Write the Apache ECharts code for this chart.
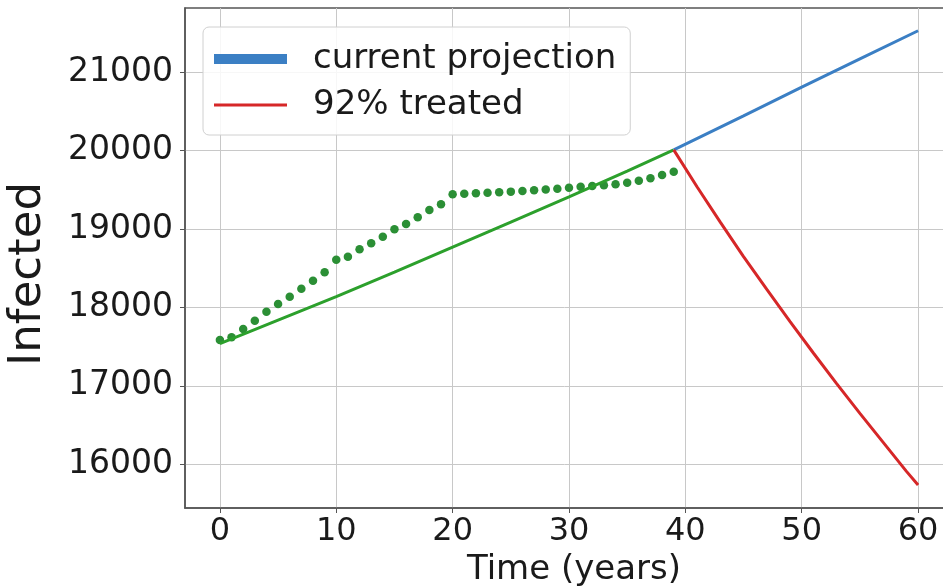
<!DOCTYPE html>
<html>
<head>
<meta charset="utf-8">
<script src="https://cdn.jsdelivr.net/npm/echarts@6/dist/echarts.min.js"></script>
<style>html,body{margin:0;padding:0;background:#fff;}#c{width:943px;height:587px;}</style>
</head>
<body>
<div id="c"></div>
<script>
// tick labels
const xTicks = [0, 10, 20, 30, 40, 50, 60];
const yTicks = [16000, 17000, 18000, 19000, 20000, 21000];

// green solid line (history fit)
const fitYears = [0, 5, 10, 15, 20, 25, 30, 35, 39];
const fitValues = [17540, 17840, 18140, 18450, 18770, 19090, 19410, 19740, 20010];

// green dotted observations (yearly)
const obsYears = [0,1,2,3,4,5,6,7,8,9,10,11,12,13,14,15,16,17,18,19,20,21,22,23,24,25,26,27,28,29,30,31,32,33,34,35,36,37,38,39];
const obsValues = [17585,17620,17726,17832,17946,18045,18138,18240,18342,18449,18610,18648,18742,18819,18903,18997,19065,19151,19244,19316,19446,19450,19456,19463,19470,19478,19486,19495,19505,19515,19528,19540,19550,19560,19571,19592,19617,19648,19690,19732];

// current projection (blue)
const projYears = [39, 45, 50, 55, 60];
const projValues = [20010, 20445, 20810, 21170, 21530];

// 92% treated (red)
const treatYears = [39, 41, 43, 45, 47, 49, 51, 53, 55, 57, 59, 60];
const treatValues = [20010, 19540, 19090, 18650, 18230, 17820, 17420, 17030, 16650, 16280, 15910, 15736];

const pairs = (xs, ys) => xs.map((x, i) => [x, ys[i]]);

const FONT = 'DejaVu Sans';
const chart = echarts.init(document.getElementById('c'), null, {renderer: 'canvas'});
chart.setOption({
  animation: false,
  backgroundColor: '#ffffff',
  grid: {left: 185, right: -10, top: 8, bottom: 79, outerBoundsMode: 'none', containLabel: false,
         show: true, borderColor: '#555', borderWidth: 1.5, backgroundColor: 'transparent'},
  xAxis: {
    type: 'value', min: -3, max: 63,
    name: 'Time (years)', nameLocation: 'middle', nameGap: 44,
    nameTextStyle: {fontFamily: FONT, fontSize: 34, color: '#1a1a1a', padding: [0, 0, 0, 10]},
    axisLine: {show: true, onZero: false, lineStyle: {color: '#555', width: 1.5}},
    axisTick: {show: true, length: 5, lineStyle: {color: '#555'}, customValues: xTicks},
    axisLabel: {customValues: xTicks, fontFamily: FONT, fontSize: 32, color: '#1a1a1a', margin: 8},
    splitLine: {show: true, lineStyle: {color: '#c8c8c8', width: 1}}
  },
  yAxis: {
    type: 'value', min: 15443, max: 21820,
    axisLine: {show: true, onZero: false, lineStyle: {color: '#555', width: 1.5}},
    axisTick: {show: true, length: 5, lineStyle: {color: '#555'}, customValues: yTicks},
    axisLabel: {customValues: yTicks, fontFamily: FONT, fontSize: 33, color: '#1a1a1a', margin: 12,
                formatter: v => String(v)},
    splitLine: {show: true, lineStyle: {color: '#c8c8c8', width: 1}}
  },
  graphic: [{
    type: 'text', x: 28, y: 274, rotation: Math.PI / 2,
    style: {text: 'Infected', fontFamily: FONT, fontSize: 45, fill: '#1a1a1a', align: 'center', verticalAlign: 'middle'}
  }],
  legend: {
    left: 203, top: 27, orient: 'vertical',
    padding: [14, 14, 12, 11],
    itemWidth: 73, itemHeight: 10, itemGap: 10,
    borderColor: '#d0d0d0', borderWidth: 1, borderRadius: 6,
    backgroundColor: 'rgba(255,255,255,0.85)',
    textStyle: {fontFamily: FONT, fontSize: 34, color: '#1a1a1a', lineHeight: 36, padding: [0, 0, 0, 21]},
    data: [
      {name: 'current projection', icon: 'path://M0,0H73V10H0Z'},
      {name: '92% treated', icon: 'path://M0,0H73V3H0Z'}
    ]
  },
  series: [
    {
      name: 'obs', type: 'line', data: pairs(obsYears, obsValues),
      symbol: 'circle', symbolSize: 8.5, showSymbol: true,
      itemStyle: {color: '#2b8f35'}, lineStyle: {width: 0, opacity: 0}, z: 2
    },
    {
      name: 'fit', type: 'line', data: pairs(fitYears, fitValues),
      symbol: 'none', lineStyle: {color: '#2ca02c', width: 3}, itemStyle: {color: '#2ca02c'}, z: 3
    },
    {
      name: 'current projection', type: 'line', data: pairs(projYears, projValues),
      symbol: 'none', lineStyle: {color: '#3b7fc4', width: 3}, itemStyle: {color: '#3b7fc4'}, z: 3
    },
    {
      name: '92% treated', type: 'line', data: pairs(treatYears, treatValues),
      symbol: 'none', lineStyle: {color: '#d62728', width: 3}, itemStyle: {color: '#d62728'}, z: 4
    }
  ]
});
</script>
</body>
</html>
